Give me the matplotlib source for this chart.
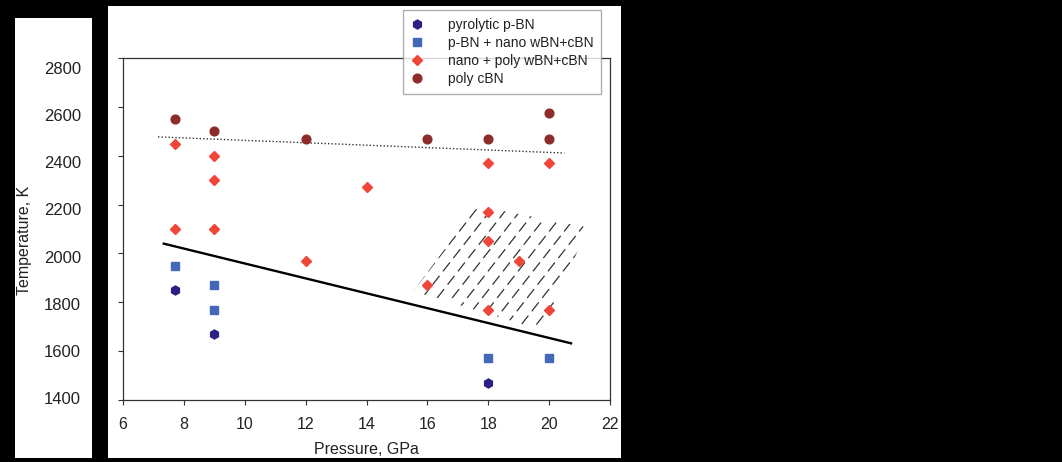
import numpy as np
import matplotlib
matplotlib.use('Agg')
import matplotlib.pyplot as plt
from matplotlib.patches import Rectangle, Polygon

plt.rcParams['font.family'] = ['Liberation Sans', 'DejaVu Sans']

# synthesis runs: pressure (GPa) and temperature (K) per product type
pyro_p = [7.7, 9, 18]
pyro_t = [1850, 1670, 1470]

nano_p = [7.7, 9, 9, 18, 20]
nano_t = [1950, 1870, 1770, 1570, 1570]

mixed_p = [7.7, 7.7, 9, 9, 9, 12, 14, 16, 18, 18, 18, 18, 19, 20, 20]
mixed_t = [2450, 2100, 2400, 2300, 2100, 1970, 2270, 1870, 2370, 2170, 2050, 1770, 1970, 2370, 1770]

poly_p = [7.7, 9, 12, 16, 18, 20, 20]
poly_t = [2550, 2500, 2470, 2470, 2470, 2575, 2470]

# trend lines
lower_p = [7.34, 20.72]
lower_t = [2040, 1632]
upper_p = [7.15, 20.5]
upper_t = [2477, 2411]

# hatched region corners
region_p = [15.54, 17.62, 21.29, 19.76]
region_t = [1845, 2195, 2106, 1687]

x_ticks = [6, 8, 10, 12, 14, 16, 18, 20, 22]
y_ticks = [1400, 1600, 1800, 2000, 2200, 2400, 2600, 2800]

W, H = 1062, 462
fig = plt.figure(figsize=(W / 100, H / 100), dpi=100, facecolor='black')

def box(x0, y0, x1, y1):
    # pixel box (top-left origin) -> figure fraction rect
    return [x0 / W, 1 - y1 / H, (x1 - x0) / W, (y1 - y0) / H]

# white panels
for r in (box(15, 18, 92, 458), box(108, 6, 621, 458)):
    fig.patches.append(Rectangle((r[0], r[1]), r[2], r[3], transform=fig.transFigure,
                                 facecolor='white', edgecolor='none', zorder=-5))

ink = '#222222'
ax = fig.add_axes(box(123, 58, 610, 400))
ax.set_facecolor('none')
ax.set_xlim(6, 22)
ax.set_ylim(1400, 2800)
ax.set_xticks(x_ticks)
ax.set_yticks(y_ticks)
ax.set_yticklabels([])
ax.tick_params(direction='out', length=3.5, width=0.8, color='#333333',
               labelsize=11.5, labelcolor=ink, pad=9)
for s in ax.spines.values():
    s.set_color('#333333')
    s.set_linewidth(0.9)
ax.set_xlabel('Pressure, GPa', fontsize=11.5, color=ink, labelpad=7)

# hatched region: dashed diagonal strokes clipped to the polygon
clip = Polygon(np.column_stack([region_p, region_t]), closed=True,
               facecolor='none', edgecolor='none', transform=ax.transData)
ax.add_patch(clip)
px_per_p = 487 / 16
px_per_t = 342 / 1400
slope = np.tan(np.radians(52)) * px_per_p / px_per_t
for p0 in np.arange(12.0, 22.0, 15 / px_per_p):
    t0, t1 = 1600, 2300
    ln, = ax.plot([p0, p0 + (t1 - t0) / slope], [t0, t1], color='#333333', lw=0.9,
                  dashes=(9, 4.5), zorder=2)
    ln.set_clip_path(clip)

ax.plot(lower_p, lower_t, color='black', lw=1.7, zorder=2)
ax.plot(upper_p, upper_t, color='#333333', lw=1.0, ls=(0, (1, 1.5)), zorder=2)

ax.plot(pyro_p, pyro_t, 'h', ls='none', ms=6.5, color='#2b2185', label='pyrolytic p-BN', zorder=3)
ax.plot(nano_p, nano_t, 's', ls='none', ms=5.2, color='#4468b8', label='p-BN + nano wBN+cBN', zorder=3)
ax.plot(mixed_p, mixed_t, 'D', ls='none', ms=5.2, color='#f0463a', label='nano + poly wBN+cBN', zorder=3)
ax.plot(poly_p, poly_t, 'o', ls='none', ms=6.3, color='#8e2b2b', label='poly cBN', zorder=3)

# temperature labels sit in the separate left panel
lab = fig.add_axes(box(84, 68, 86, 398))
lab.set_frame_on(False)
lab.set_ylim(1400, 2800)
lab.set_yticks(y_ticks)
lab.set_xticks([])
lab.tick_params(axis='y', length=0, pad=2, labelsize=12, labelcolor=ink)
fig.text(25 / W, 1 - 240 / H, 'Temperature, K', rotation=90, ha='center', va='center',
         fontsize=11.5, color=ink)

leg = fig.legend(loc='upper left', bbox_to_anchor=(403 / W, 1 - 10 / H), bbox_transform=fig.transFigure,
                 borderaxespad=0, fontsize=10, frameon=True, fancybox=False, edgecolor='#999999',
                 handlelength=0.93, handletextpad=1.78, labelspacing=0.3, borderpad=0.54)
leg.get_frame().set_linewidth(1.0)
for t in leg.get_texts():
    t.set_color(ink)

fig.savefig('out.png', dpi=100, facecolor='black')
